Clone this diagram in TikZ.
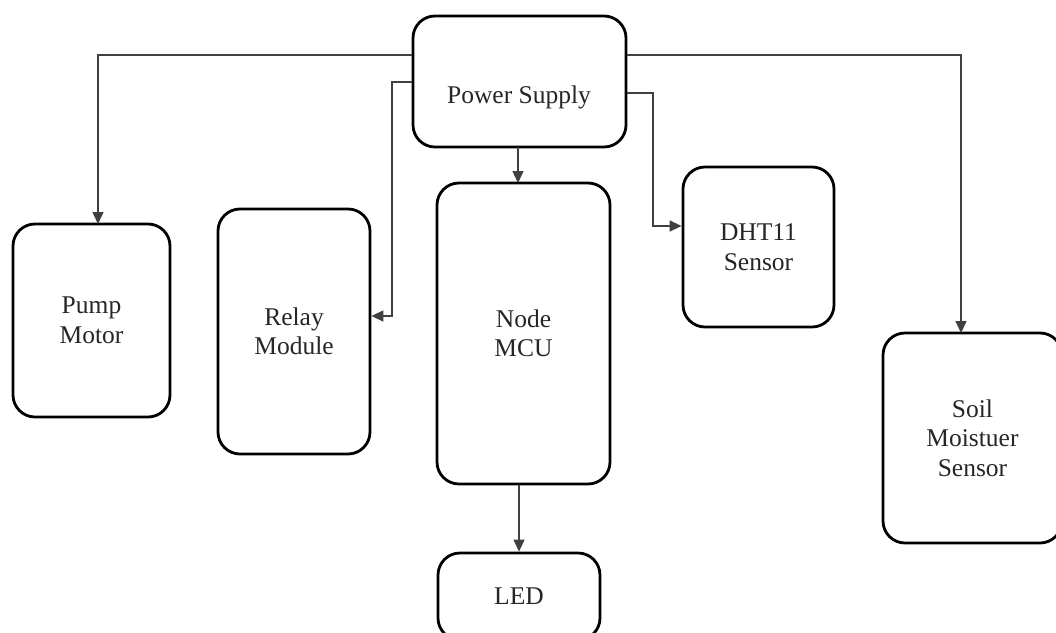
\documentclass[tikz,border=0pt]{standalone}
\usepackage{fontspec}
\setmainfont{Liberation Serif}
\usetikzlibrary{arrows.meta}
\begin{document}
\begin{tikzpicture}[x=1pt,y=-1pt,
  blk/.style={draw=black, line width=2.8pt, rounded corners=22pt, fill=white,
    inner sep=0pt, align=center, text=black!85,
    font=\fontsize{25.5}{29.5}\selectfont},
  lbl/.style={inner sep=0pt, align=center, text=black!85,
    font=\fontsize{25.5}{29.5}\selectfont},
  conn/.style={draw=black!75, line width=1.4pt, -{Triangle[length=12pt,width=11pt]}},
  line/.style={draw=black!75, line width=1.4pt}]
\useasboundingbox (0,0) rectangle (1056,632);
\clip (0,0) rectangle (1056,632);
\fill[white] (0,0) rectangle (1056,632);

\node[blk, minimum width=213pt, minimum height=131pt] (ps) at (519.5,81.5) {};
\node[lbl] (pst) at (519,97) {Power Supply};
\node[blk, minimum width=157pt, minimum height=193pt] (pump) at (91.5,320.5) {Pump\\Motor};
\node[blk, minimum width=152pt, minimum height=245pt] (relay) at (294,331.5) {Relay\\Module};
\node[blk, minimum width=173pt, minimum height=301pt] (mcu) at (523.5,333.5) {Node\\MCU};
\node[blk, minimum width=151pt, minimum height=160pt] (dht) at (758.5,247) {DHT11\\Sensor};
\node[blk, minimum width=179pt, minimum height=210pt] (soil) at (972.5,438) {Soil\\Moistuer\\Sensor};
\node[blk, minimum width=162pt, minimum height=87pt] (led) at (519,596.5) {LED};

\coordinate (pumpin) at (98,224);
\coordinate (soilin) at (961,333);

% top bus
\draw[conn] (ps.west |- 0,55) -| (pumpin);
\draw[conn] (ps.east |- 0,55) -| (soilin);
% relay
\draw[conn] (ps.west |- 0,82) -- (392,82) |- (relay.east |- 0,316);
% dht
\draw[conn] (ps.east |- 0,93) -- (653,93) |- (dht.west |- 0,226);
% mcu
\draw[conn] (518,147) -- (518,183);
% led
\draw[conn] (led.north |- mcu.south) -- (led.north);
\end{tikzpicture}
\end{document}
